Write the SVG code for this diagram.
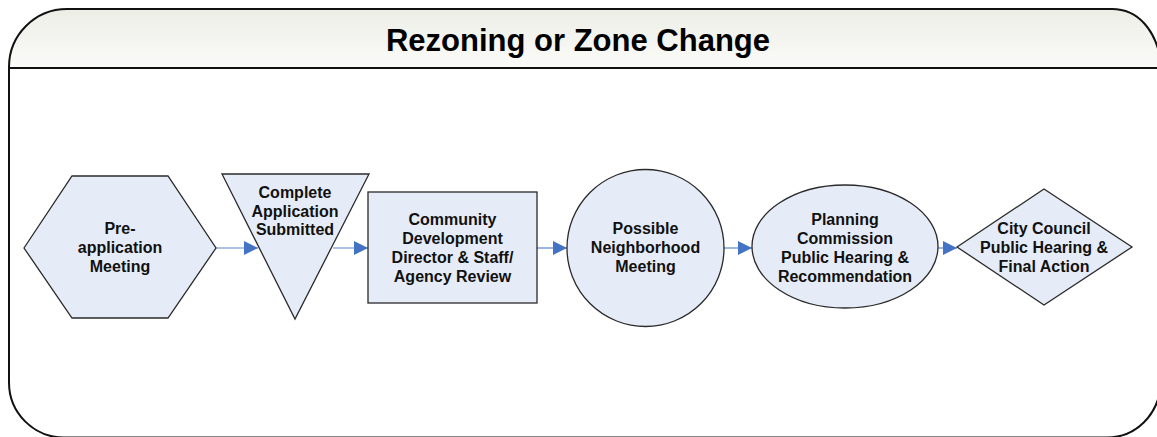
<svg xmlns="http://www.w3.org/2000/svg" width="1157" height="437" viewBox="0 0 1157 437">
  <defs>
    <linearGradient id="headGrad" x1="0" y1="0" x2="0" y2="1">
      <stop offset="0" stop-color="#eceee6"/>
      <stop offset="1" stop-color="#fbfbf9"/>
    </linearGradient>
    <marker id="arrow" viewBox="0 0 14 14" refX="14" refY="7" markerWidth="14" markerHeight="14" markerUnits="userSpaceOnUse" orient="auto">
      <path d="M0,0 L14,7 L0,14 Z" fill="#4472c4"/>
    </marker>
    <clipPath id="headClip">
      <rect x="0" y="0" width="1157" height="68"/>
    </clipPath>
  </defs>
  <style>
    .node { fill: #e6ecf7; stroke: #2a2a2a; stroke-width: 1.3; }
    .label { font-family: "Liberation Sans", Arial, sans-serif; font-weight: bold; font-size: 16px; fill: #111; text-anchor: middle; }
    .title { font-family: "Liberation Sans", Arial, sans-serif; font-weight: bold; font-size: 31px; fill: #000; text-anchor: middle; }
    .link { fill: none; stroke: #5b87cf; stroke-width: 1.2; marker-end: url(#arrow); }
  </style>

  <rect width="1157" height="437" fill="#ffffff"/>

  <!-- Outer frame with header band -->
  <g id="frame">
    <path d="M9,67 A58,58 0 0 1 67,9 L1112,9 C1138,9 1156,30 1161,62 L1161,385 C1158,415 1136,437.5 1107,437.5 L64,437.5 A55,55 0 0 1 9,382.5 Z" fill="#ffffff"/>
    <path clip-path="url(#headClip)" d="M9,67 A58,58 0 0 1 67,9 L1112,9 C1138,9 1156,30 1161,62 L1161,68 L9,68 Z" fill="url(#headGrad)"/>
    <path d="M9,67 A58,58 0 0 1 67,9 L1112,9 C1138,9 1156,30 1161,62 L1161,385 C1158,415 1136,437.5 1107,437.5 L64,437.5 A55,55 0 0 1 9,382.5 Z" fill="none" stroke="#111" stroke-width="2"/>
    <line x1="9" y1="68" x2="1161" y2="68" stroke="#111" stroke-width="2"/>
    <text class="title" x="578" y="51">Rezoning or Zone Change</text>
  </g>

  <!-- Connectors -->
  <g id="connectors">
    <line class="link" x1="216" y1="248" x2="258" y2="248"/>
    <line class="link" x1="333" y1="248" x2="368" y2="248"/>
    <line class="link" x1="537" y1="248" x2="567" y2="248"/>
    <line class="link" x1="724" y1="248" x2="752" y2="248"/>
    <line class="link" x1="938" y1="248" x2="957" y2="248"/>
  </g>

  <g id="pre-application">
    <polygon class="node" points="24,248 72,176 168,176 216,248 168,318 72,318"/>
    <text class="label" x="120" y="233.5">Pre-</text>
    <text class="label" x="120" y="252.5">application</text>
    <text class="label" x="120" y="271.5">Meeting</text>
  </g>

  <g id="application-submitted">
    <polygon class="node" points="222,174 369,174 295,319"/>
    <text class="label" x="295" y="197.5">Complete</text>
    <text class="label" x="295" y="216.5">Application</text>
    <text class="label" x="295" y="235">Submitted</text>
  </g>

  <g id="staff-review">
    <rect class="node" x="368" y="192" width="169" height="111"/>
    <text class="label" x="452.5" y="224.5">Community</text>
    <text class="label" x="452.5" y="243.5">Development</text>
    <text class="label" x="452.5" y="262.5">Director &amp; Staff/</text>
    <text class="label" x="452.5" y="281.5">Agency Review</text>
  </g>

  <g id="neighborhood-meeting">
    <circle class="node" cx="645.5" cy="248" r="78.5"/>
    <text class="label" x="645.5" y="233.5">Possible</text>
    <text class="label" x="645.5" y="252.5">Neighborhood</text>
    <text class="label" x="645.5" y="271.5">Meeting</text>
  </g>

  <g id="planning-commission">
    <ellipse class="node" cx="845" cy="246.5" rx="93" ry="61.5"/>
    <text class="label" x="845" y="224.5">Planning</text>
    <text class="label" x="845" y="243.5">Commission</text>
    <text class="label" x="845" y="262.5">Public Hearing &amp;</text>
    <text class="label" x="845" y="281.5">Recommendation</text>
  </g>

  <g id="city-council">
    <polygon class="node" points="957,247 1044,189 1132,247 1044,305"/>
    <text class="label" x="1044" y="233.5">City Council</text>
    <text class="label" x="1044" y="252.5">Public Hearing &amp;</text>
    <text class="label" x="1044" y="271.5">Final Action</text>
  </g>
</svg>
